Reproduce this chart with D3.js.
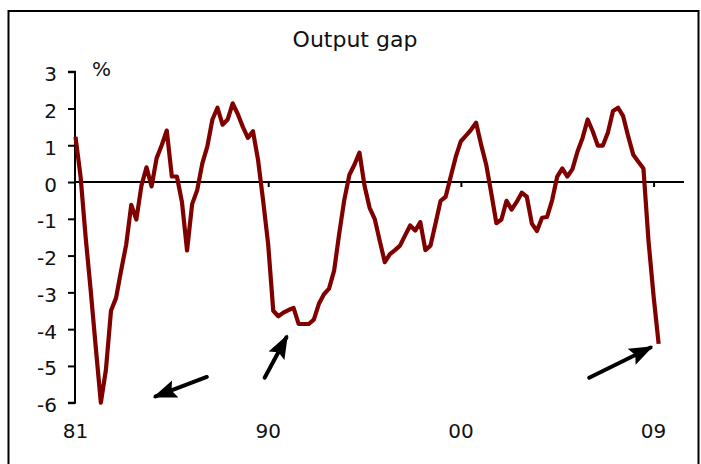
<!DOCTYPE html>
<html>
<head>
<meta charset="utf-8">
<script src="https://cdn.jsdelivr.net/npm/d3@7"></script>
<style>
  body { margin: 0; background: #fff; }
  svg text { font-family: Verdana, "DejaVu Sans", sans-serif; fill: #111; }
</style>
</head>
<body>
<div id="graph"></div>
<script>
// Quarterly output gap, 1981Q1 - 2009Q4 (%)
let gapValues = [
  1.23, 0.15, -1.5, -2.95, -4.5, -6.0, -5.1, -3.5, -3.15, -2.4,
  -1.7, -0.62, -1.02, -0.1, 0.4, -0.12, 0.65, 1.0, 1.4, 0.15,
  0.15, -0.55, -1.86, -0.6, -0.22, 0.5, 0.97, 1.7, 2.02, 1.56,
  1.7, 2.14, 1.85, 1.5, 1.2, 1.38, 0.6, -0.5, -1.7, -3.5,
  -3.65, -3.55, -3.48, -3.42, -3.86, -3.86, -3.86, -3.74, -3.31, -3.05,
  -2.9, -2.41, -1.41, -0.49, 0.19, 0.47, 0.8, -0.1, -0.7, -1.0,
  -1.6, -2.18, -1.96, -1.85, -1.73, -1.45, -1.18, -1.32, -1.09, -1.85,
  -1.73, -1.13, -0.51, -0.4, 0.15, 0.69, 1.11, 1.26, 1.42, 1.61,
  1.01, 0.47, -0.31, -1.12, -1.02, -0.51, -0.75, -0.54, -0.29, -0.4,
  -1.13, -1.33, -0.97, -0.95, -0.49, 0.15, 0.37, 0.15, 0.35, 0.83,
  1.2, 1.7, 1.38, 0.99, 0.99, 1.35, 1.93, 2.02, 1.79, 1.24,
  0.74, 0.55, 0.37, -1.6, -3.1, -4.4
];

// Category ticks (quarter index) and their labels
let tickIndex = [0, 38, 76, 114];
let tickLabels = ["81", "90", "00", "09"];
let yTicks = [3, 2, 1, 0, -1, -2, -3, -4, -5, -6];

// Arrows, as [quarter index, value] from tail to tip
let arrows = [
  [[25.9, -5.3], [15.8, -5.83]],
  [[37.3, -5.32], [41.6, -4.22]],
  [[101.3, -5.32], [113.4, -4.5]]
];

let width = 701, height = 464;

let svg = d3.select("#graph").append("svg")
  .attr("width", width)
  .attr("height", height);

// Outer frame
svg.append("rect")
  .attr("x", 8.5).attr("y", 11)
  .attr("width", 690).attr("height", 480)
  .attr("fill", "none")
  .attr("stroke", "#000")
  .attr("stroke-width", 2);

let xScale = d3.scaleLinear().domain([0, 120]).range([75.5, 684]);
let yScale = d3.scaleLinear().domain([-6, 3]).range([402.7, 71.7]);

// Title
svg.append("text")
  .attr("x", 355).attr("y", 47)
  .attr("text-anchor", "middle")
  .style("font-size", "22px")
  .text("Output gap");

// Unit label
svg.append("text")
  .attr("x", 92).attr("y", 76)
  .style("font-size", "20px")
  .text("%");

// Y axis
let yAxis = d3.axisLeft(yScale)
  .tickValues(yTicks)
  .tickFormat(d3.format("d"))
  .tickSize(7)
  .tickPadding(11);

let gy = svg.append("g")
  .attr("transform", `translate(${xScale(0) - 0.5}, 0)`)
  .call(yAxis);
gy.select(".domain").attr("d", `M-7,${yScale(3)}H0V${yScale(-6)}H-7`)
  .attr("stroke-width", 2);
gy.selectAll(".tick line").attr("stroke-width", 2);
gy.selectAll(".tick text")
  .attr("dy", "0.45em")
  .style("font-size", "20px")
  .style("font-family", "Verdana, 'DejaVu Sans', sans-serif")
  .attr("fill", "#111")
  .text(d => d < 0 ? "-" + Math.abs(d) : d);

// X axis along zero line
let xAxis = d3.axisBottom(xScale)
  .tickValues(tickIndex.slice(1))
  .tickFormat("")
  .tickSize(5);

let gx = svg.append("g")
  .attr("transform", `translate(0, ${yScale(0)})`)
  .call(xAxis);
gx.select(".domain").attr("d", `M${xScale(0)},0H${xScale(120)}`)
  .attr("stroke-width", 2);
gx.selectAll(".tick line").attr("stroke-width", 2);

// Category labels below the plot
svg.selectAll(".xlab")
  .data(tickIndex)
  .enter().append("text")
  .attr("class", "xlab")
  .attr("x", d => xScale(d))
  .attr("y", 438)
  .attr("text-anchor", "middle")
  .style("font-size", "20px")
  .text((d, i) => tickLabels[i]);

// Output gap line
let line = d3.line()
  .x((d, i) => xScale(i))
  .y(d => yScale(d));

svg.append("path")
  .datum(gapValues)
  .attr("d", line)
  .attr("fill", "none")
  .attr("stroke", "#800000")
  .attr("stroke-width", 4.2)
  .attr("stroke-linejoin", "round");

// Arrow heads
svg.append("defs").append("marker")
  .attr("id", "head")
  .attr("markerUnits", "userSpaceOnUse")
  .attr("viewBox", "0 0 24 22")
  .attr("refX", 21).attr("refY", 11)
  .attr("markerWidth", 24).attr("markerHeight", 22)
  .attr("orient", "auto")
  .append("path")
  .attr("d", "M0,2L24,11L0,20L4,11Z")
  .attr("fill", "#000");

svg.selectAll(".arrow")
  .data(arrows)
  .enter().append("line")
  .attr("class", "arrow")
  .attr("x1", d => xScale(d[0][0]))
  .attr("y1", d => yScale(d[0][1]))
  .attr("x2", d => xScale(d[1][0]))
  .attr("y2", d => yScale(d[1][1]))
  .attr("stroke", "#000")
  .attr("stroke-width", 4)
  .attr("stroke-linecap", "round")
  .attr("marker-end", "url(#head)");
</script>
</body>
</html>
